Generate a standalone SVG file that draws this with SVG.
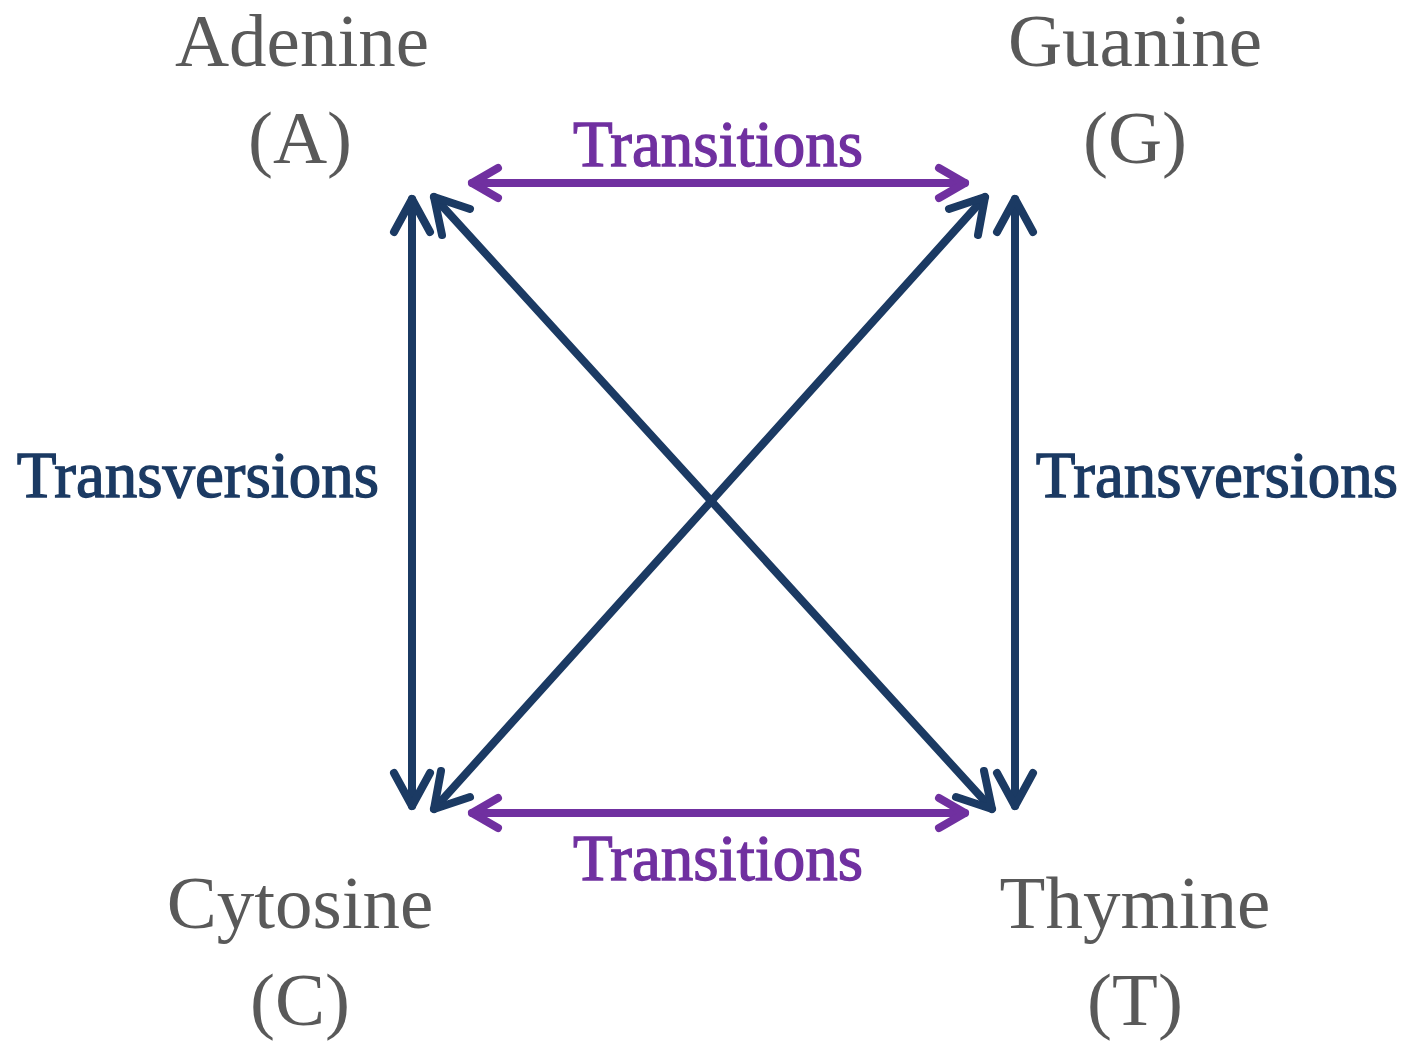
<svg xmlns="http://www.w3.org/2000/svg" width="1408" height="1043" viewBox="0 0 1408 1043">
<style>
.base{font-family:"Liberation Serif","Times New Roman",serif;font-size:75px;fill:#595959;text-anchor:middle}
.lbl{font-family:"Liberation Serif","Times New Roman",serif;font-size:65px;text-anchor:middle;stroke-width:1.3}
.ti{fill:#7030A0;stroke:#7030A0}
.tv{fill:#1B3A63;stroke:#1B3A63}
.c{fill:none;stroke-width:8;stroke-linecap:round;stroke-linejoin:round}
.blue{stroke:#1B3A63}
.purp{stroke:#7030A0}
</style>
<rect width="1408" height="1043" fill="#ffffff"/>
<g id="node-adenine"><text class="base" x="302" y="66">Adenine</text><text class="base" x="300" y="163">(A)</text></g>
<g id="node-guanine"><text class="base" x="1135" y="66">Guanine</text><text class="base" x="1135" y="163">(G)</text></g>
<g id="node-cytosine"><text class="base" x="300" y="928">Cytosine</text><text class="base" x="300" y="1025">(C)</text></g>
<g id="node-thymine"><text class="base" x="1135" y="928">Thymine</text><text class="base" x="1135" y="1025">(T)</text></g>
<g id="labels">
<text class="lbl ti" x="718" y="166">Transitions</text>
<text class="lbl ti" x="718" y="880">Transitions</text>
<text class="lbl tv" x="198" y="497">Transversions</text>
<text class="lbl tv" x="1217" y="497">Transversions</text>
</g>
<g id="connectors">
<g class="c purp">
<path d="M472,183 H965"/>
<path d="M498,168 L472,183 L498,198"/>
<path d="M939,168 L965,183 L939,198"/>
<path d="M472,813 H965"/>
<path d="M498,798 L472,813 L498,828"/>
<path d="M939,798 L965,813 L939,828"/>
</g>
<g class="c blue">
<path d="M412,199 V806"/>
<path d="M394,232 L412,199 L430,232"/>
<path d="M394,773 L412,806 L430,773"/>
<path d="M1015,199 V806"/>
<path d="M997,232 L1015,199 L1033,232"/>
<path d="M997,773 L1015,806 L1033,773"/>
<path d="M434,197 L992,809"/>
<path d="M442,235 L434,197 L470,209"/>
<path d="M956,797 L992,809 L984,771"/>
<path d="M434,809 L985,197"/>
<path d="M441,771 L434,809 L470,797"/>
<path d="M949,209 L985,197 L978,235"/>
</g>
</g>
</svg>
